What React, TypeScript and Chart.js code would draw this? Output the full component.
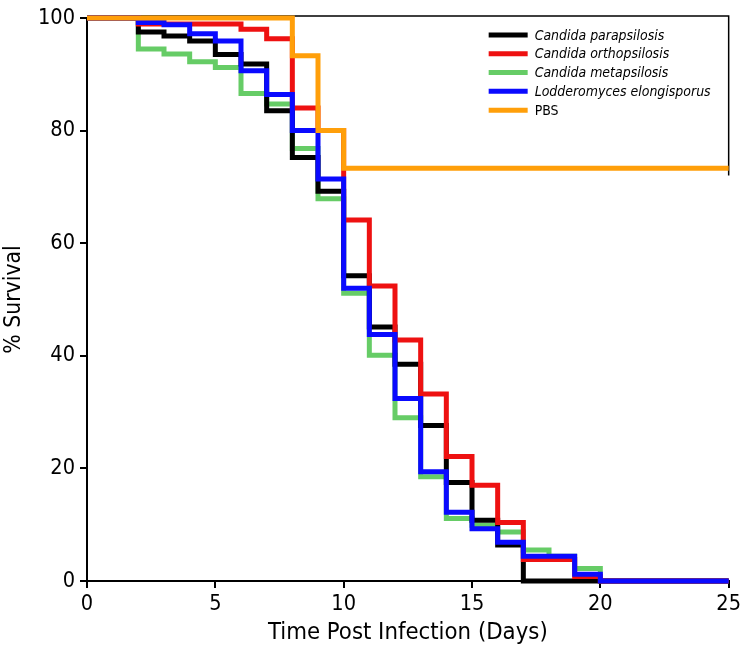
import React, { useEffect, useRef } from 'react';
import { Chart, registerables } from 'chart.js';

Chart.register(...registerables);

// ---------------- data ----------------
const DAYS = [0, 2, 3, 4, 5, 6, 7, 8, 9, 10, 11, 12, 13, 14, 15, 16, 17, 18, 19, 20, 25];
const PARAPSILOSIS = [100, 97.5, 96.8, 95.9, 93.5, 91.8, 83.5, 75.2, 69.2, 54.2, 45.1, 38.5, 27.6, 17.5, 10.8, 6.4, 0, 0, 0, 0, 0];
const ORTHOPSILOSIS = [100, 98.9, 98.9, 98.9, 98.9, 98.0, 96.3, 84.0, 80.0, 64.1, 52.4, 42.8, 33.2, 22.1, 17.0, 10.4, 3.8, 3.8, 0.8, 0, 0];
const METAPSILOSIS = [100, 94.5, 93.6, 92.2, 91.2, 86.6, 84.7, 76.8, 67.9, 51.1, 40.1, 29.0, 18.5, 11.1, 9.9, 8.7, 5.5, 4.4, 2.2, 0, 0];
const ELONGISPORUS = [100, 99.2, 98.8, 97.2, 95.9, 90.6, 86.4, 80.0, 71.4, 52.0, 43.8, 32.4, 19.4, 12.2, 9.3, 6.9, 4.4, 4.4, 1.2, 0, 0];
const PBS_DAYS = [0, 8, 9, 10, 25];
const PBS = [100, 93.3, 80, 73.3, 73.3];

const SERIES_LABELS = [
  'Candida parapsilosis',
  'Candida orthopsilosis',
  'Candida metapsilosis',
  'Lodderomyces elongisporus',
  'PBS',
];
const SERIES_ITALIC = [true, true, true, true, false];
const SERIES_COLORS = ['#000000', '#ee1111', '#66cc66', '#0a0aff', '#ff9f0a'];
const SERIES_ORDER = [3, 2, 4, 1, 0];

const X_MIN = 0;
const X_MAX = 25;
const X_STEP = 5;
const Y_MIN = 0;
const Y_MAX = 100;
const Y_STEP = 20;
const X_TITLE = 'Time Post Infection (Days)';
const Y_TITLE = '% Survival';

// ---------------- font helpers ----------------
function hasFont(fam: string): boolean {
  const c = document.createElement('canvas').getContext('2d');
  if (!c) return false;
  const s = 'abcdefghijklmnopqrstuvwxyzABCDEFGHIJ0123456789%()';
  for (const base of ['monospace', 'serif']) {
    c.font = `40px ${base}`;
    const w0 = c.measureText(s).width;
    c.font = `40px '${fam}', ${base}`;
    const w1 = c.measureText(s).width;
    if (Math.abs(w0 - w1) > 0.5) return true;
  }
  return false;
}

function fitSize(fam: string, text: string, target: number, style = ''): number {
  const c = document.createElement('canvas').getContext('2d');
  if (!c) return 16;
  c.font = `${style} 40px ${fam}`.trim();
  const w = c.measureText(text).width;
  return (40 * target) / w;
}

function toPoints(xs: number[], ys: number[]) {
  return xs.map((x, i) => ({ x, y: ys[i] }));
}

export default function App() {
  const ref = useRef<HTMLCanvasElement | null>(null);

  useEffect(() => {
    document.body.style.margin = '0';
    const canvas = ref.current;
    if (!canvas) return;

    const candidates = ['Liberation Sans Narrow', 'DejaVu Sans Condensed', 'DejaVu Sans'];
    let famName = 'DejaVu Sans';
    for (const f of candidates) {
      if (hasFont(f)) { famName = f; break; }
    }
    const fam = `'${famName}', 'DejaVu Sans', sans-serif`;
    const tickSize = fitSize(fam, '100', 37);
    const titleSize = fitSize(fam, X_TITLE, 280);
    const legendSize = fitSize(fam, 'Lodderomyces elongisporus', 176, 'italic');

    const seriesY = [PARAPSILOSIS, ORTHOPSILOSIS, METAPSILOSIS, ELONGISPORUS, PBS];
    const seriesX = [DAYS, DAYS, DAYS, DAYS, PBS_DAYS];

    const datasets = SERIES_LABELS.map((label, i) => ({
      label,
      data: toPoints(seriesX[i], seriesY[i]),
      borderColor: SERIES_COLORS[i],
      backgroundColor: SERIES_COLORS[i],
      borderWidth: 5,
      pointRadius: 0,
      stepped: 'before' as const,
      fill: false,
      tension: 0,
      order: SERIES_ORDER[i],
      clip: false as any,
      borderCapStyle: 'butt' as const,
      borderJoinStyle: 'miter' as const,
    }));

    const framePlugin = {
      id: 'frame',
      beforeDatasetsDraw(chart: any) {
        const { ctx, chartArea, scales } = chart;
        ctx.save();
        ctx.strokeStyle = '#000';
        ctx.lineWidth = 1.5;
        ctx.beginPath();
        ctx.moveTo(chartArea.left, chartArea.top - 2);
        ctx.lineTo(chartArea.right, chartArea.top - 2);
        ctx.lineTo(chartArea.right, scales.y.getPixelForValue(72));
        ctx.stroke();
        ctx.restore();
      },
    };

    const legendPlugin = {
      id: 'customLegend',
      afterDraw(chart: any) {
        const { ctx, chartArea } = chart;
        ctx.save();
        const x0 = chartArea.right - 240;
        const lineLen = 39;
        const textX = x0 + 46;
        for (let i = 0; i < SERIES_LABELS.length; i++) {
          const y = chartArea.top + 17 + i * 18.8;
          ctx.strokeStyle = SERIES_COLORS[i];
          ctx.lineWidth = 5;
          ctx.beginPath();
          ctx.moveTo(x0, y);
          ctx.lineTo(x0 + lineLen, y);
          ctx.stroke();
          ctx.fillStyle = '#000';
          ctx.textBaseline = 'middle';
          ctx.textAlign = 'left';
          ctx.font = `${SERIES_ITALIC[i] ? 'italic ' : ''}${legendSize}px ${fam}`;
          ctx.fillText(SERIES_LABELS[i], textX, y + 1);
        }
        ctx.restore();
      },
    };

    const chart = new Chart(canvas, {
      type: 'line',
      data: { datasets },
      options: {
        animation: false,
        responsive: false,
        devicePixelRatio: 1,
        layout: { padding: { top: 15, right: 14, left: 0, bottom: 0 } },
        plugins: {
          legend: { display: false },
          tooltip: { enabled: false },
        },
        scales: {
          x: {
            type: 'linear',
            min: X_MIN,
            max: X_MAX,
            ticks: {
              stepSize: X_STEP,
              color: '#000',
              font: { family: fam, size: tickSize },
              padding: 3,
              maxRotation: 0,
            },
            grid: {
              display: true,
              drawOnChartArea: false,
              drawTicks: true,
              tickLength: 7,
              color: '#000',
              lineWidth: 2,
            },
            border: { display: true, color: '#000', width: 2 },
            title: {
              display: true,
              text: X_TITLE,
              color: '#000',
              font: { family: fam, size: titleSize },
              padding: { top: 0, bottom: 11 },
            },
            afterFit(scale: any) {
              scale.height = 77;
            },
          },
          y: {
            type: 'linear',
            min: Y_MIN,
            max: Y_MAX,
            ticks: {
              stepSize: Y_STEP,
              color: '#000',
              font: { family: fam, size: tickSize },
              padding: 5,
            },
            grid: {
              display: true,
              drawOnChartArea: false,
              drawTicks: true,
              tickLength: 7,
              color: '#000',
              lineWidth: 2,
            },
            border: { display: true, color: '#000', width: 2 },
            title: {
              display: true,
              text: Y_TITLE,
              color: '#000',
              font: { family: fam, size: titleSize * 0.96 },
              padding: { top: 0, bottom: 0 },
            },
            afterFit(scale: any) {
              scale.width = 87;
            },
          },
        },
      },
      plugins: [framePlugin, legendPlugin],
    });

    return () => {
      chart.destroy();
    };
  }, []);

  return (
    <div style={{ width: 744, height: 658, background: '#fff' }}>
      <canvas ref={ref} width={744} height={658} style={{ display: 'block', width: 744, height: 658 }} />
    </div>
  );
}
